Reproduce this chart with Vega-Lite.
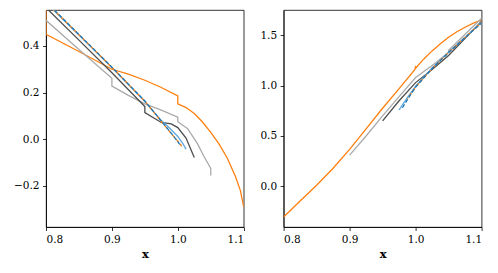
{
  "$schema": "https://vega.github.io/schema/vega-lite/v6.json",
  "padding": {"left": 5, "top": 9, "right": 5, "bottom": 0},
  "bounds": "flush",
  "spacing": 39.6,
  "datasets": {
    "left": [
      {"s":"a","i":0,"x":0.8,"y":0.62},{"s":"a","i":1,"x":0.8,"y":0.45},{"s":"a","i":2,"x":0.85,"y":0.376},{"s":"a","i":3,"x":0.9,"y":0.30},{"s":"a","i":4,"x":0.925,"y":0.279},{"s":"a","i":5,"x":0.95,"y":0.253},{"s":"a","i":6,"x":0.975,"y":0.222},{"s":"a","i":7,"x":1.0,"y":0.186},{"s":"a","i":8,"x":1.0,"y":0.152},{"s":"a","i":9,"x":1.0125,"y":0.136},{"s":"a","i":10,"x":1.025,"y":0.11},{"s":"a","i":11,"x":1.0375,"y":0.074},{"s":"a","i":12,"x":1.05,"y":0.03},{"s":"a","i":13,"x":1.0625,"y":-0.02},{"s":"a","i":14,"x":1.075,"y":-0.08},{"s":"a","i":15,"x":1.0875,"y":-0.16},{"s":"a","i":16,"x":1.095,"y":-0.22},{"s":"a","i":17,"x":1.1,"y":-0.29},
      {"s":"b","i":0,"x":0.8,"y":0.51},{"s":"b","i":1,"x":0.85,"y":0.385},{"s":"b","i":2,"x":0.9,"y":0.261},{"s":"b","i":3,"x":0.9,"y":0.228},{"s":"b","i":4,"x":0.925,"y":0.188},{"s":"b","i":5,"x":0.95,"y":0.152},{"s":"b","i":6,"x":0.975,"y":0.125},{"s":"b","i":7,"x":1.0,"y":0.095},{"s":"b","i":8,"x":1.0,"y":0.075},{"s":"b","i":9,"x":1.015,"y":0.045},{"s":"b","i":10,"x":1.03,"y":-0.02},{"s":"b","i":11,"x":1.04,"y":-0.075},{"s":"b","i":12,"x":1.05,"y":-0.125},{"s":"b","i":13,"x":1.05,"y":-0.155},
      {"s":"c","i":0,"x":0.8,"y":0.564},{"s":"c","i":1,"x":0.85,"y":0.425},{"s":"c","i":2,"x":0.9,"y":0.285},{"s":"c","i":3,"x":0.95,"y":0.14},{"s":"c","i":4,"x":0.95,"y":0.114},{"s":"c","i":5,"x":0.975,"y":0.072},{"s":"c","i":6,"x":0.99,"y":0.066},{"s":"c","i":7,"x":1.0,"y":0.05},{"s":"c","i":8,"x":1.0125,"y":0.005},{"s":"c","i":9,"x":1.02,"y":-0.045},{"s":"c","i":10,"x":1.025,"y":-0.078},
      {"s":"d","i":0,"x":0.8,"y":0.585},{"s":"d","i":1,"x":0.85,"y":0.447},{"s":"d","i":2,"x":0.9,"y":0.307},{"s":"d","i":3,"x":0.95,"y":0.162},{"s":"d","i":4,"x":0.975,"y":0.08},{"s":"d","i":5,"x":0.9875,"y":0.048},{"s":"d","i":6,"x":1.0,"y":0.012},{"s":"d","i":7,"x":1.0075,"y":-0.018},{"s":"d","i":8,"x":1.0125,"y":-0.042},
      {"s":"e","i":0,"x":0.8,"y":0.587},{"s":"e","i":1,"x":0.85,"y":0.448},{"s":"e","i":2,"x":0.9,"y":0.308},{"s":"e","i":3,"x":0.95,"y":0.163},{"s":"e","i":4,"x":0.975,"y":0.076},{"s":"e","i":5,"x":0.99,"y":0.025},{"s":"e","i":6,"x":1.0,"y":-0.008},{"s":"e","i":7,"x":1.006,"y":-0.03},
      {"s":"f","i":0,"x":0.8,"y":0.589},{"s":"f","i":1,"x":0.85,"y":0.449},{"s":"f","i":2,"x":0.9,"y":0.309},{"s":"f","i":3,"x":0.95,"y":0.164},{"s":"f","i":4,"x":0.975,"y":0.078},{"s":"f","i":5,"x":0.99,"y":0.026},{"s":"f","i":6,"x":1.0,"y":-0.01},{"s":"f","i":7,"x":1.003,"y":-0.022}
    ],
    "right": [
      {"s":"a","i":0,"x":0.8,"y":-0.305},{"s":"a","i":1,"x":0.825,"y":-0.145},{"s":"a","i":2,"x":0.85,"y":0.01},{"s":"a","i":3,"x":0.875,"y":0.18},{"s":"a","i":4,"x":0.9,"y":0.367},{"s":"a","i":5,"x":0.925,"y":0.57},{"s":"a","i":6,"x":0.95,"y":0.775},{"s":"a","i":7,"x":0.975,"y":0.97},{"s":"a","i":8,"x":0.999,"y":1.16},{"s":"a","i":9,"x":1.0,"y":1.195},{"s":"a","i":10,"x":1.0,"y":1.172},{"s":"a","i":11,"x":1.0125,"y":1.265},{"s":"a","i":12,"x":1.025,"y":1.345},{"s":"a","i":13,"x":1.0375,"y":1.415},{"s":"a","i":14,"x":1.05,"y":1.48},{"s":"a","i":15,"x":1.0625,"y":1.535},{"s":"a","i":16,"x":1.075,"y":1.58},{"s":"a","i":17,"x":1.0875,"y":1.62},{"s":"a","i":18,"x":1.1,"y":1.65},
      {"s":"b","i":0,"x":0.9,"y":0.31},{"s":"b","i":1,"x":0.925,"y":0.5},{"s":"b","i":2,"x":0.95,"y":0.70},{"s":"b","i":3,"x":0.975,"y":0.89},{"s":"b","i":4,"x":1.0,"y":1.08},{"s":"b","i":5,"x":1.025,"y":1.2},{"s":"b","i":6,"x":1.05,"y":1.33},{"s":"b","i":7,"x":1.05,"y":1.35},{"s":"b","i":8,"x":1.075,"y":1.51},{"s":"b","i":9,"x":1.1,"y":1.67},
      {"s":"c","i":0,"x":0.95,"y":0.65},{"s":"c","i":1,"x":0.975,"y":0.85},{"s":"c","i":2,"x":1.0,"y":1.03},{"s":"c","i":3,"x":1.025,"y":1.16},{"s":"c","i":4,"x":1.05,"y":1.3},{"s":"c","i":5,"x":1.075,"y":1.47},{"s":"c","i":6,"x":1.1,"y":1.64},
      {"s":"d","i":0,"x":0.975,"y":0.76},{"s":"d","i":1,"x":0.9875,"y":0.88},{"s":"d","i":2,"x":1.0,"y":0.995},{"s":"d","i":3,"x":1.025,"y":1.175},{"s":"d","i":4,"x":1.05,"y":1.335},{"s":"d","i":5,"x":1.075,"y":1.48},{"s":"d","i":6,"x":1.1,"y":1.63},
      {"s":"e","i":0,"x":0.9875,"y":0.87},{"s":"e","i":1,"x":1.0,"y":0.985},{"s":"e","i":2,"x":1.025,"y":1.17},{"s":"e","i":3,"x":1.05,"y":1.33},{"s":"e","i":4,"x":1.075,"y":1.48},{"s":"e","i":5,"x":1.1,"y":1.625},
      {"s":"f","i":0,"x":0.98,"y":0.78},{"s":"f","i":1,"x":0.99,"y":0.885},{"s":"f","i":2,"x":1.0,"y":0.985},{"s":"f","i":3,"x":1.025,"y":1.17},{"s":"f","i":4,"x":1.05,"y":1.328},{"s":"f","i":5,"x":1.075,"y":1.478},{"s":"f","i":6,"x":1.1,"y":1.622}
    ]
  },
  "hconcat": [
    {
      "width": 197.7, "height": 217,
      "data": {"name": "left"},
      "encoding": {
        "x": {"field": "x", "type": "quantitative", "scale": {"domain": [0.8, 1.1], "nice": false, "zero": false}, "axis": {"values": [0.8, 0.9, 1.0, 1.1], "format": ".1f", "title": "x"}},
        "y": {"field": "y", "type": "quantitative", "scale": {"domain": [-0.376, 0.554], "nice": false, "zero": false}, "axis": {"values": [-0.2, 0, 0.2, 0.4], "format": ".1f", "title": null, "minExtent": 40, "maxExtent": 40}},
        "order": {"field": "i", "type": "quantitative"}
      },
      "layer": [
        {"transform": [{"filter": "datum.s <= 'd'"}], "mark": {"type": "line", "clip": true, "strokeWidth": 1.3},
         "encoding": {"color": {"field": "s", "type": "nominal", "scale": {"domain": ["a","b","c","d"], "range": ["#ff7f0e","#aaaaaa","#4d4d4d","#5fa8e0"]}, "legend": null}}},
        {"transform": [{"filter": "datum.s == 'e'"}], "mark": {"type": "line", "clip": true, "strokeWidth": 1.3, "color": "#ff7f0e", "strokeDash": [4, 2], "strokeDashOffset": 3}},
        {"transform": [{"filter": "datum.s == 'f'"}], "mark": {"type": "line", "clip": true, "strokeWidth": 1.3, "color": "#1f77b4", "strokeDash": [4, 2]}}
      ]
    },
    {
      "width": 198, "height": 217,
      "data": {"name": "right"},
      "encoding": {
        "x": {"field": "x", "type": "quantitative", "scale": {"domain": [0.8, 1.1], "nice": false, "zero": false}, "axis": {"values": [0.8, 0.9, 1.0, 1.1], "format": ".1f", "title": "x"}},
        "y": {"field": "y", "type": "quantitative", "scale": {"domain": [-0.404, 1.751], "nice": false, "zero": false}, "axis": {"values": [0, 0.5, 1.0, 1.5], "format": ".1f", "title": null}},
        "order": {"field": "i", "type": "quantitative"}
      },
      "layer": [
        {"transform": [{"filter": "datum.s <= 'd'"}], "mark": {"type": "line", "clip": true, "strokeWidth": 1.3},
         "encoding": {"color": {"field": "s", "type": "nominal", "scale": {"domain": ["a","b","c","d"], "range": ["#ff7f0e","#aaaaaa","#4d4d4d","#5fa8e0"]}, "legend": null}}},
        {"transform": [{"filter": "datum.s == 'e'"}], "mark": {"type": "line", "clip": true, "strokeWidth": 1.3, "color": "#ff7f0e", "strokeDash": [4, 2], "strokeDashOffset": 3}},
        {"transform": [{"filter": "datum.s == 'f'"}], "mark": {"type": "line", "clip": true, "strokeWidth": 1.3, "color": "#1f77b4", "strokeDash": [4, 2]}}
      ]
    }
  ],
  "config": {
    "view": {"stroke": "black", "strokeWidth": 0.8},
    "axis": {
      "grid": false, "domainColor": "black", "domainWidth": 0.8, "tickColor": "black", "tickWidth": 0.8, "tickSize": 3.5,
      "labelFont": "DejaVu Serif", "labelFontSize": 10.5, "labelColor": "black", "labelPadding": 3.5,
      "titleFont": "DejaVu Serif", "titleFontSize": 11.5, "titleFontWeight": "bold", "titleColor": "black", "titlePadding": 4
    }
  }
}
